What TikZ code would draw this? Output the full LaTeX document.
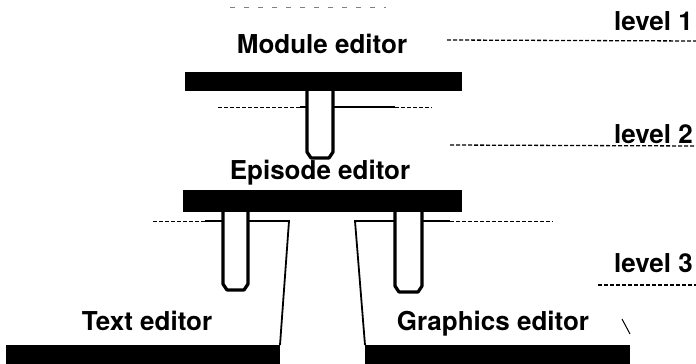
\documentclass[tikz,border=0pt]{standalone}
\usepackage{fontspec}
\setmainfont{TeX Gyre Heros}
\usetikzlibrary{calc, positioning}

\begin{document}
\begin{tikzpicture}[x=1pt, y=-1pt,
    every node/.style={font=\bfseries\fontsize{26}{30}\selectfont, inner sep=0pt},
    bar/.style={fill=black, draw=none},
    stem/.style={draw=black, fill=white, line width=3.2pt, line join=round},
    rule/.style={black, line width=1.3pt, dash pattern=on 4pt off 2pt},
    link/.style={black, line width=1.3pt},
    edge/.style={black, line width=1.8pt}]
    \useasboundingbox (0,0) rectangle (696,364);
    % level labels and their rules
    \node[anchor=base east] (lv1) at (693,30) {level 1};
    \node[anchor=base east] (lv2) at (693,143) {level 2};
    \node[anchor=base east] (lv3) at (693,272) {level 3};
    \coordinate (r1) at (447,40);  \coordinate (r1e) at (696,41);
    \coordinate (r2) at (450,145); \coordinate (r2e) at (696,146);
    \coordinate (r3) at (598,285); \coordinate (r3e) at (696,285);
    \draw[rule] (r1) -- (r1e);
    \draw[rule] (r2) -- (r2e);
    \draw[rule] (r3) -- (r3e);
    \draw[rule, gray, line width=0.8pt, dash pattern=on 5pt off 9pt] (230,7) -- (386,7);
    % editor names
    \node[anchor=base] (mod) at (322,53) {Module editor};
    \node[anchor=base] (epi) at (320,179) {Episode editor};
    \node[anchor=base] (txt) at (147,330) {Text editor};
    \node[anchor=base] (gfx) at (493,330) {Graphics editor};
    % level 1 to level 2
    \fill[bar] (185,72) rectangle (462,91);
    \draw[rule, line width=0.9pt] (218,107) -- (300,107);
    \draw[link] (300,107) -- (307,107);
    \draw[link] (333,107) -- (395,107);
    \draw[rule, line width=0.9pt] (395,107) -- (432,107);
    \draw[stem] (307,91) -- (307,152) -- (311,158) -- (329,158) -- (333,152) -- (333,91);
    % level 2 to level 3
    \fill[bar] (183,190) rectangle (462,212);
    \draw[rule, line width=0.9pt] (153,221) -- (205,221);
    \draw[link] (205,221) -- (223,221);
    \draw[link] (422,221) -- (450,221);
    \draw[rule, line width=0.9pt] (450,221) -- (553,221);
    \draw[edge] (248,221) -- (289,221) -- (280,345);
    \draw[edge] (395,221) -- (355,221) -- (365,345);
    \draw[stem] (223,212) -- (223,284) -- (227,290) -- (244,290) -- (248,284) -- (248,212);
    \draw[stem] (395,212) -- (395,286) -- (399,292) -- (418,292) -- (422,286) -- (422,212);
    % level 3 bars
    \fill[bar] (6,345) rectangle (280,364);
    \fill[bar] (365,345) rectangle (630,364);
    \draw[black, line width=1pt] (622,319) -- (630,334);
\end{tikzpicture}
\end{document}
